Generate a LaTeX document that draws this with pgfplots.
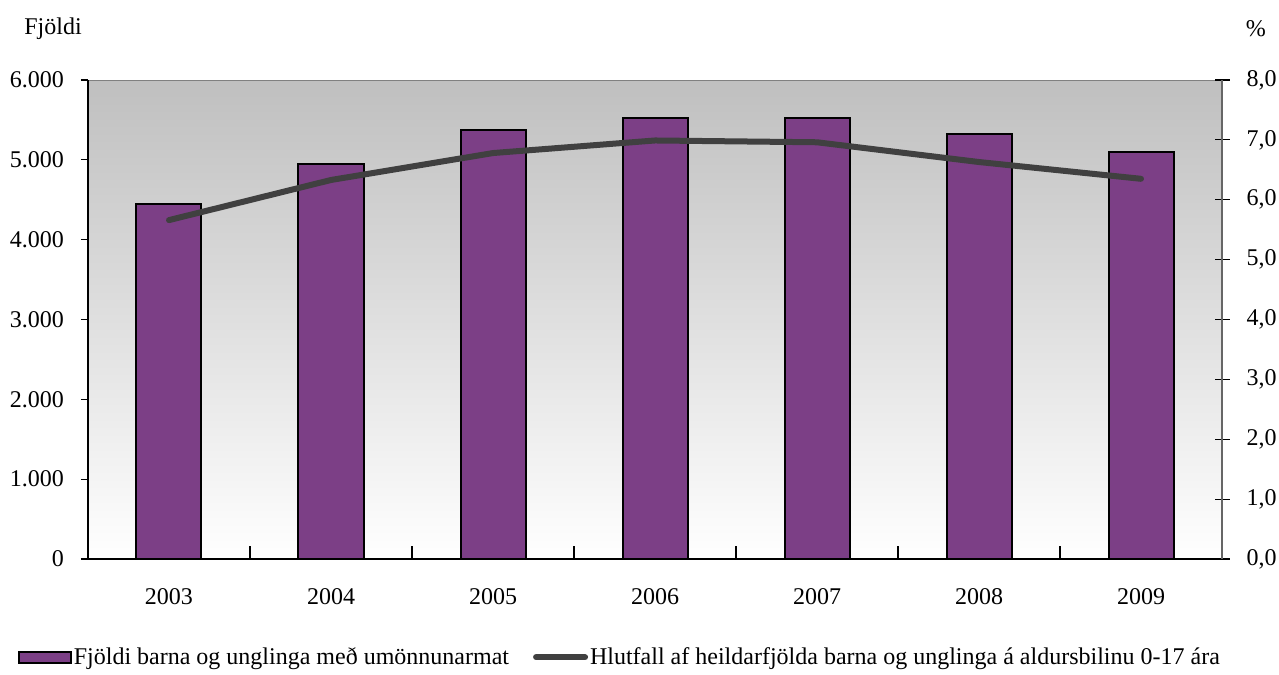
\documentclass[border=0pt]{standalone}
\usepackage{fontspec}
\setmainfont{Liberation Serif}
\usepackage{pgfplots}
\pgfplotsset{compat=1.18}
\definecolor{barcol}{RGB}{124,63,134}
\definecolor{linecol}{RGB}{64,64,64}
\newcommand\cf{\fontsize{12bp}{14bp}\selectfont}
\pgfplotsset{
  barleg/.style={legend image code/.code={\draw[##1] (0bp,-2.75bp) rectangle (26bp,2.75bp);}},
  lineleg/.style={legend image code/.code={\draw[##1, line width=3bp] (1.5bp,0bp) -- (26bp,0bp);}},
}
\begin{document}
\begin{tikzpicture}
\useasboundingbox (-44bp,-58bp) rectangle (595.5bp,279.5bp);
\begin{axis}[
  name=ax1,
  at={(0,0)}, anchor=south west,
  width=567bp, height=239.5bp, scale only axis,
  xmin=-0.5, xmax=6.5, ymin=0, ymax=6000,
  ybar, bar width=32.5bp,
  axis background/.style={top color=black!25, bottom color=white, draw=black!50},
  axis x line*=bottom, axis y line*=left,
  axis line style={-, black, line width=0.8bp},
  xtick={0,...,6},
  xticklabels={2003,2004,2005,2006,2007,2008,2009},
  major x tick style={draw=none},
  minor xtick={-0.5,0.5,...,6.5},
  xtick align=inside,
  minor tick length=6.5bp,
  ytick={0,1000,...,6000},
  ytick align=outside,
  major tick length=3.5bp,
  tick style={black, line width=0.6bp},
  scaled y ticks=false,
  yticklabel style={/pgf/number format/1000 sep={.}, /pgf/number format/fixed, /pgf/number format/precision=0},
  /pgf/number format/assume math mode=true,
  every tick label/.append style={font=\cf},
  xticklabel style={yshift=-11bp},
  yticklabel style={xshift=-5bp},
]
\addplot[fill=barcol, draw=black, line width=1bp] coordinates {
 (0,4450) (1,4952) (2,5374) (3,5528) (4,5528) (5,5324) (6,5102)};
\end{axis}
\begin{axis}[
  name=ax2,
  at={(0,0)}, anchor=south west,
  width=567bp, height=239.5bp, scale only axis,
  xmin=-0.5, xmax=6.5, ymin=0, ymax=8,
  hide x axis,
  axis y line*=right,
  axis line style={-, black!60, line width=0.8bp},
  ytick={0,1,...,8},
  ytick align=center,
  major tick length=7.5bp,
  tick style={black, line width=0.6bp},
  yticklabel style={/pgf/number format/fixed, /pgf/number format/fixed zerofill, /pgf/number format/precision=1, /pgf/number format/use comma, xshift=5bp},
  /pgf/number format/assume math mode=true,
  every tick label/.append style={font=\cf},
  legend columns=2,
  legend style={draw=none, fill=none, font=\cf, at={(0.469,-0.205)}, anchor=center,
    nodes={inner xsep=1bp},
    /tikz/every even column/.append style={column sep=11bp}},
  legend cell align=left,
]
\addlegendimage{fill=barcol, draw=black, line width=1bp, barleg}
\addlegendentry{Fjöldi barna og unglinga með umönnunarmat}
\addplot[linecol, line width=3bp, line cap=round, line join=round, lineleg] coordinates {
 (0,5.66) (1,6.33) (2,6.78) (3,6.99) (4,6.96) (5,6.63) (6,6.35)};
\addlegendentry{Hlutfall af heildarfjölda barna og unglinga á aldursbilinu 0-17 ára}
\end{axis}
\node[anchor=base west, font=\cf, inner sep=0pt] at ([xshift=-32bp,yshift=23bp]ax1.north west) {Fjöldi};
\node[anchor=base west, font=\cf, inner sep=0pt] at ([xshift=11.7bp,yshift=22bp]ax1.north east) {\%};
\end{tikzpicture}
\end{document}
